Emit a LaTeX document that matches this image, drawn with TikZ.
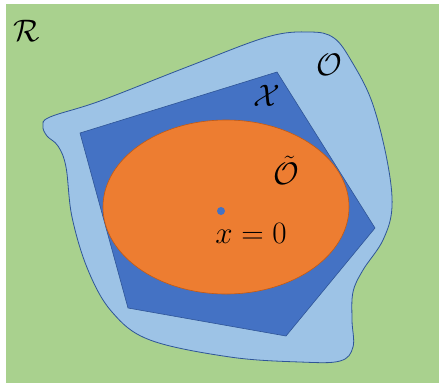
\documentclass[tikz,border=0pt]{standalone}
\usepackage{amsmath}
\definecolor{regiongreen}{HTML}{A9D18E}
\definecolor{lightblue}{HTML}{9DC3E6}
\definecolor{darkblue}{HTML}{4472C4}
\definecolor{edgeblue}{HTML}{2F5597}
\definecolor{setorange}{HTML}{ED7D31}
\definecolor{edgeorange}{HTML}{C55A11}

\begin{document}
\begin{tikzpicture}[x=1pt,y=-1pt,
    lbl/.style={font=\Huge,scale=1.25}]
  \useasboundingbox (0,0) rectangle (439,384);
  \fill[regiongreen](6,4)rectangle(439,383);
  % outer set O
  \draw[fill=lightblue,draw=edgeblue,line width=0.8pt] plot[smooth cycle,tension=0.6] coordinates
    {(50,117) (100,101) (187,67) (267,37) (310,32) (334,38) (352,62) (372,102)
     (387,160) (392,207) (383,240) (363,270) (353,292) (352,320) (353,347)
     (340,361) (300,362) (230,357) (150,340) (112,312) (88,270) (72,217)
     (66,167) (58,146) (47,136) (43,126)};
  % set X
  \draw[fill=darkblue,draw=edgeblue,line width=0.6pt]
    (80,133)--(277,72)--(375,228)--(286,336)--(128,308)--cycle;
  % set O tilde
  \draw[fill=setorange,draw=edgeorange,line width=0.6pt] (226,207) ellipse (123 and 87);
  \fill[darkblue] (221,211) circle (4);
  \node[lbl] (R) at (27,31) {$\mathcal{R}$};
  \node[lbl] (O) at (329,65) {$\mathcal{O}$};
  \node[lbl] (X) at (267,96) {$\mathcal{X}$};
  \node[lbl] (Ot) at (286,170) {$\tilde{\mathcal{O}}$};
  \node[lbl] (x0) at (251,233) {$x=0$};
\end{tikzpicture}
\end{document}
